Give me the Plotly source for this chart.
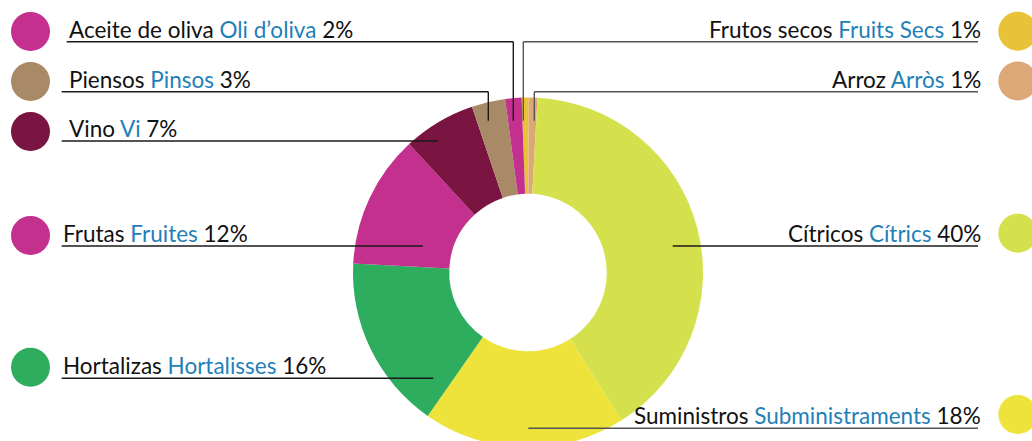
import plotly.graph_objects as go

# ---------------- data ----------------
categories_es = ["Frutos secos", "Arroz", "Cítricos", "Suministros", "Hortalizas",
                 "Frutas", "Vino", "Piensos", "Aceite de oliva"]
categories_ca = ["Fruits Secs", "Arròs", "Cítrics", "Subministraments", "Hortalisses",
                 "Fruites", "Vi", "Pinsos", "Oli d’oliva"]
shares = [0.65, 0.8, 40.15, 18.7, 16.1, 12.3, 6.7, 3.1, 1.5]
label_pct = ["1%", "1%", "40%", "18%", "16%", "12%", "7%", "3%", "2%"]  # printed labels
colors = ["#E8C33A", "#DDA877", "#D4E04C", "#EEE33A", "#2EAD5F",
          "#C3308E", "#7A1541", "#A98A66", "#C3308E"]

# ---------------- layout constants ----------------
W, H = 1032, 448
CX, CY, R = 528, 272.5, 175
HOLE = 0.45
ROT = -2.1
BLUE = "#1F80B8"
FONT = "Lato"
FS = 22.5

# side, text x, underline y, circle y, line start x, leader end x, leader end y (None => horizontal), line colour
label_layout = {
    "Frutos secos":    ("R", 983, 41.7, 31.2, 978, 523.3, 120.7, "#555555"),
    "Arroz":           ("R", 983, 91.7, 81.0, 978, 534.3, 120.7, "#555555"),
    "Cítricos":        ("R", 983, 246.0, 233.3, 978, 672.7, None, "#1a1a1a"),
    "Suministros":     ("R", 983, 428.3, 414.5, 978, 528.3, None, "#555555"),
    "Hortalizas":      ("L", 61, 378.3, 367.2, 61.7, 433.3, None, "#1a1a1a"),
    "Frutas":          ("L", 61, 246.0, 235.5, 61.7, 422.7, None, "#1a1a1a"),
    "Vino":            ("L", 67, 141.0, 131.5, 61.7, 437.7, None, "#1a1a1a"),
    "Piensos":         ("L", 67, 91.7, 81.5, 61.7, 488.3, 120.7, "#1a1a1a"),
    "Aceite de oliva": ("L", 67, 41.7, 31.5, 66.7, 513.3, 120.7, "#1a1a1a"),
}

fig = go.Figure()
fig.add_trace(go.Pie(
    values=shares, labels=categories_es, sort=False, direction="clockwise",
    rotation=ROT, hole=HOLE, textinfo="none", hoverinfo="label+percent",
    marker=dict(colors=colors, line=dict(width=0)),
    domain=dict(x=[(CX - R) / W, (CX + R) / W],
                y=[(H - CY - R) / H, (H - CY + R) / H]),
    showlegend=False,
))

shapes, annotations = [], []
for es, ca, pct, col in zip(categories_es, categories_ca, label_pct, colors):
    side, tx, uy, cyc, lx0, ex, ey, lcol = label_layout[es]
    # underline + leader
    shapes.append(dict(type="line", xref="x", yref="y", x0=lx0, x1=ex, y0=uy, y1=uy,
                       line=dict(color=lcol, width=1.4)))
    if ey is not None:
        shapes.append(dict(type="line", xref="x", yref="y", x0=ex, x1=ex, y0=uy, y1=ey,
                           line=dict(color=lcol, width=1.4)))
    # legend circle
    ccx = 30.5 if side == "L" else 1017.8
    shapes.append(dict(type="circle", xref="x", yref="y", x0=ccx - 19.5, x1=ccx + 19.5,
                       y0=cyc - 19.5, y1=cyc + 19.5, fillcolor=col, line=dict(width=0)))
    txt = f"{es} <span style='color:{BLUE}'>{ca}</span> {pct}"
    annotations.append(dict(x=tx, y=uy - 12.5, xref="x", yref="y", text=txt, showarrow=False,
                            xanchor="left" if side == "L" else "right", yanchor="middle",
                            font=dict(family=FONT, size=FS, color="#111111")))

fig.update_layout(
    width=W, height=H, margin=dict(l=0, r=0, t=0, b=0),
    paper_bgcolor="white", plot_bgcolor="white",
    xaxis=dict(range=[0, W], visible=False, fixedrange=True),
    yaxis=dict(range=[H, 0], visible=False, fixedrange=True),
    shapes=shapes, annotations=annotations,
)
fig.write_html("out.html", config={"displayModeBar": False},
               post_script="document.body.style.margin='0';document.body.style.overflow='hidden';")
